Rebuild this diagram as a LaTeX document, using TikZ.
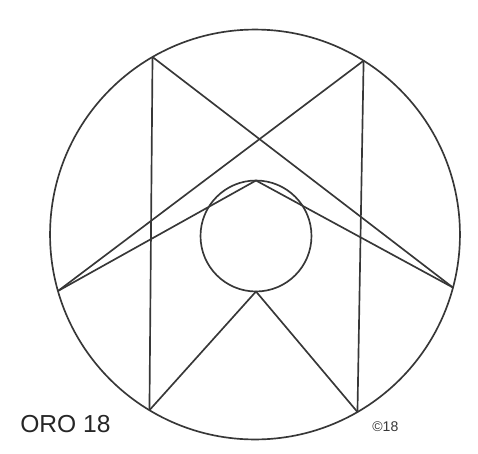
\documentclass[tikz,border=0pt]{standalone}
\usepackage{fontspec}
\setmainfont{Liberation Sans}
\usepackage{tikz}
\usetikzlibrary{positioning,calc}
\definecolor{inkgray}{RGB}{55,55,55}
\tikzset{
    ring/.style={circle, draw=inkgray, line width=0.95pt, inner sep=0pt, outer sep=0pt},
    chord/.style={draw=inkgray, line width=0.95pt, line join=round},
    plate/.style={font=\fontsize{14}{16}\selectfont, text=black!85, inner sep=0pt},
    sigmark/.style={font=\fontsize{8}{9}\selectfont, text=inkgray, inner sep=0pt},
}
\begin{document}
\begin{tikzpicture}[x=0.02cm, y=-0.02cm]
    \useasboundingbox (0,0) rectangle (478,454);

    % Circles
    \node[ring, minimum size=8.2cm] (rim) at (255,234.5) {};
    \node[ring, minimum size=2.22cm] (hub) at (256,236) {};

    % Points on the rim
    \coordinate (tl) at (rim.120.5);
    \coordinate (tr) at (rim.58.6);
    \coordinate (bl) at (rim.239.2);
    \coordinate (br) at (rim.300.6);
    \coordinate (lp) at (rim.196.7);
    \coordinate (rp) at (rim.345.5);

    % Verticals
    \draw[chord] (tl) -- (bl);
    \draw[chord] (tr) -- (br);

    % Cross
    \draw[chord] (tl) -- (rp);
    \draw[chord] (tr) -- (lp);

    % Roof over the hub
    \draw[chord] (lp) -- (hub.north) -- (rp);

    % Legs under the hub
    \draw[chord] (bl) -- (hub.south) -- (br);

    % Labels
    \node[plate, anchor=base west] (title) at (20,432) {ORO 18};
    \node[sigmark, anchor=base west] (sig) at (372,431) {©18};
\end{tikzpicture}
\end{document}
